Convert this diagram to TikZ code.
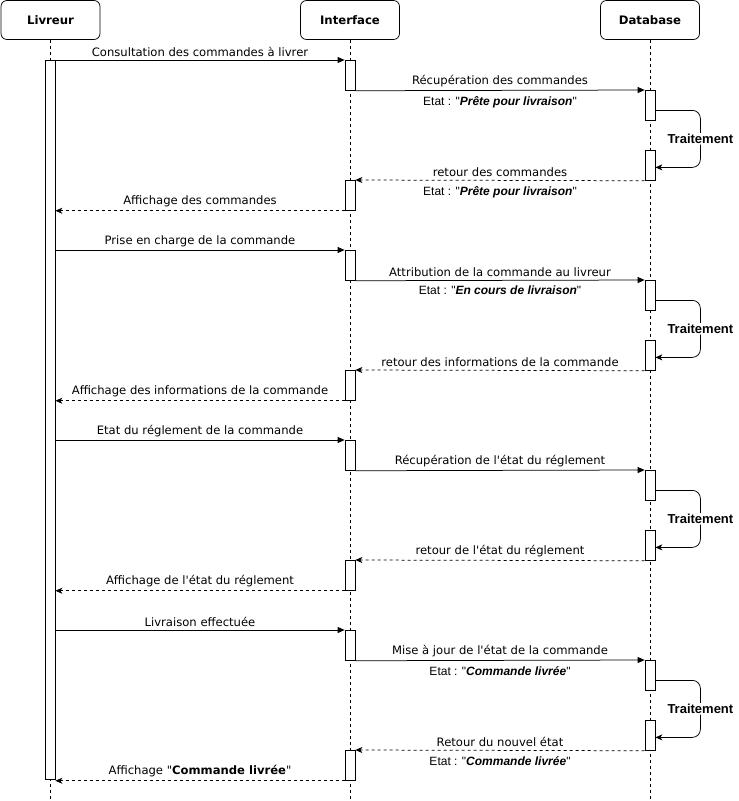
\documentclass[tikz,border=0pt]{standalone}
\usepackage{fontspec}
\setmainfont{DejaVu Sans}[Ligatures=TeXOff]
\newfontfamily\arialfont{Liberation Sans}[Ligatures=TeXOff]
\usetikzlibrary{arrows.meta,positioning}

\begin{document}
\begin{tikzpicture}[
    x=1pt,y=-1pt,line width=0.75pt,
    head/.style={draw,rounded corners=6pt,minimum width=99pt,minimum height=39pt,
      font=\fontsize{11.7}{14}\selectfont\bfseries},
    bar/.style={draw,fill=white,minimum width=10pt,minimum height=30pt,inner sep=0pt,anchor=north},
    life/.style={dash pattern=on 3pt off 3pt},
    msg/.style={-{Triangle[length=7pt,width=6pt]}},
    ret/.style={dash pattern=on 3pt off 3pt,-{Stealth[length=7pt,width=6pt,inset=2pt]}},
    selfloop/.style={rounded corners=8pt,-{Stealth[length=7pt,width=6pt,inset=2pt]}},
    lbl/.style={font=\fontsize{11.6}{13}\selectfont,inner sep=3pt},
    etat/.style={font=\arialfont\fontsize{12}{14}\selectfont,inner sep=1.5pt,yshift=-4pt},
    trait/.style={fill=white,font=\arialfont\fontsize{13}{15}\selectfont\bfseries,inner sep=1pt}
  ]
  \useasboundingbox (0,0) rectangle (739,801);

  % participants
  \node[head] (livreur) at (50.5,20) {Livreur};
  \node[head] (interface) at (350,20) {Interface};
  \node[head] (database) at (650,20) {Database};

  % lifelines
  \foreach \p in {livreur,interface,database}
    \draw[life] (\p.south) -- (\p.south |- 0,801);

  % activation bars
  \node[bar,minimum height=719pt] (lbar) at (50,60) {};
  \foreach \n/\y in {1/60,2/180,3/250,4/370,5/440,6/560,7/630,8/750}
    \node[bar] (i\n) at (350,\y) {};
  \foreach \n/\y in {1/90,2/150,3/280,4/340,5/470,6/530,7/660,8/720}
    \node[bar] (d\n) at (650,\y) {};

  % traitement
  \foreach \a/\b in {1/2,3/4,5/6,7/8}
    \draw[selfloop] ([yshift=-5pt]d\a.east) -- ++(45,0)
      |- node[trait,pos=0.25] {Traitement} ([yshift=-2pt]d\b.east);

  % consultation
  \draw[msg] (lbar.east |- i1.north) -- node[lbl,above] {Consultation des commandes à livrer} (i1.north west);
  \draw[msg] (i1.south east) -- node[lbl,above] {Récupération des commandes}
    node[etat,below] {Etat : "\textbf{\textit{Prête pour livraison}}"} (d1.north west);
  \draw[ret] (d2.south west) -- node[lbl,above] {retour des commandes}
    node[etat,below] {Etat : "\textbf{\textit{Prête pour livraison}}"} (i2.north east);
  \draw[ret] (i2.south west) -- node[lbl,above] {Affichage des commandes} (lbar.east |- i2.south);

  % prise en charge
  \draw[msg] (lbar.east |- i3.north) -- node[lbl,above] {Prise en charge de la commande} (i3.north west);
  \draw[msg] (i3.south east) -- node[lbl,above] {Attribution de la commande au livreur}
    node[etat,below] {Etat : "\textbf{\textit{En cours de livraison}}"} (d3.north west);
  \draw[ret] (d4.south west) -- node[lbl,above] {retour des informations de la commande} (i4.north east);
  \draw[ret] (i4.south west) -- node[lbl,above] {Affichage des informations de la commande} (lbar.east |- i4.south);

  % reglement
  \draw[msg] (lbar.east |- i5.north) -- node[lbl,above] {Etat du réglement de la commande} (i5.north west);
  \draw[msg] (i5.south east) -- node[lbl,above] {Récupération de l'état du réglement} (d5.north west);
  \draw[ret] (d6.south west) -- node[lbl,above] {retour de l'état du réglement} (i6.north east);
  \draw[ret] (i6.south west) -- node[lbl,above] {Affichage de l'état du réglement} (lbar.east |- i6.south);

  % livraison
  \draw[msg] (lbar.east |- i7.north) -- node[lbl,above] {Livraison effectuée} (i7.north west);
  \draw[msg] (i7.south east) -- node[lbl,above] {Mise à jour de l'état de la commande}
    node[etat,below] {Etat : "\textbf{\textit{Commande livrée}}"} (d7.north west);
  \draw[ret] (d8.south west) -- node[lbl,above] {Retour du nouvel état}
    node[etat,below] {Etat : "\textbf{\textit{Commande livrée}}"} (i8.north east);
  \draw[ret] (i8.south west) -- node[lbl,above] {Affichage "\textbf{Commande livrée}"} (lbar.east |- i8.south);
\end{tikzpicture}
\end{document}
